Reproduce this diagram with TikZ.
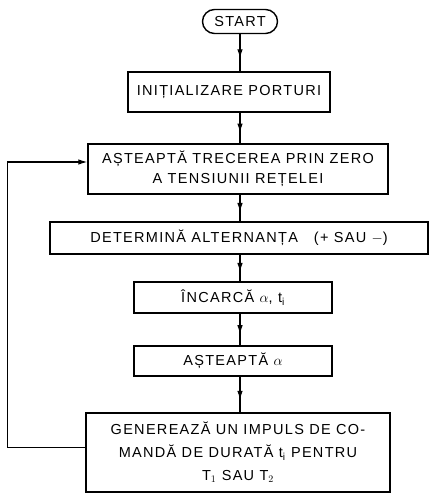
\documentclass[tikz,border=0pt]{standalone}
\usepackage{fontspec}
\setmainfont{Liberation Sans}[LetterSpace=9]
\usetikzlibrary{calc,decorations.markings,arrows.meta}

\begin{document}
\begin{tikzpicture}[x=1pt,y=-1pt]
    % boxes of the chart
    \tikzstyle{blk}=[draw, line width=1.4pt, inner sep=2pt, align=center, font=\fontsize{14.5}{20}\selectfont]
    % start terminal
    \tikzstyle{term}=[blk, rounded corners=12pt]
    % connectors, arrow part way down
    \tikzstyle{flow}=[line width=1.1pt, postaction={decorate}, decoration={markings, mark=at position 0.65 with {\arrow{Latex[length=9pt,width=5.5pt]}}}]
    \useasboundingbox (0,0) rectangle (432,495);
    \node[term, minimum width=75pt, minimum height=24pt] (start) at (240,21.5) {START};
    \node[blk, minimum width=202pt, minimum height=40pt] (init) at (229,92) {INIȚIALIZARE PORTURI};
    \node[blk, minimum width=300pt, minimum height=50pt] (zero) at (238,169) {AȘTEAPTĂ TRECEREA PRIN ZERO\\A TENSIUNII REȚELEI};
    \node[blk, minimum width=378pt, minimum height=32pt] (alt) at (239,238) {DETERMINĂ ALTERNANȚA \ \ (+ SAU $-$)};
    \node[blk, minimum width=198pt, minimum height=31pt] (load) at (233,297.5) {ÎNCARCĂ $\alpha$, t$_\mathrm{i}$};
    \node[blk, minimum width=198pt, minimum height=30pt] (wait) at (233,361) {AȘTEAPTĂ $\alpha$};
    \node[blk, minimum width=304pt, minimum height=79pt, font=\fontsize{14.5}{23}\selectfont] (gen) at (238,452.5) {GENEREAZĂ UN IMPULS DE CO-\\MANDĂ DE DURATĂ t$_\mathrm{i}$ PENTRU\\T$_1$ SAU T$_2$};
    \draw[flow] (start.south) -- (start.south |- init.north);
    \draw[flow] (start.south |- init.south) -- (start.south |- zero.north);
    \draw[flow] (start.south |- zero.south) -- (start.south |- alt.north);
    \draw[flow] (start.south |- alt.south) -- (start.south |- load.north);
    \draw[flow] (start.south |- load.south) -- (start.south |- wait.north);
    \draw[flow] (start.south |- wait.south) -- (start.south |- gen.north);
    \draw[line width=1.1pt, -{Latex[length=9pt,width=5.5pt]}] ($(gen.west)+(0,-5)$) -- ($(gen.west)+(-78,-5)$) |- ($(zero.west)+(0,-7)$);
\end{tikzpicture}
\end{document}
